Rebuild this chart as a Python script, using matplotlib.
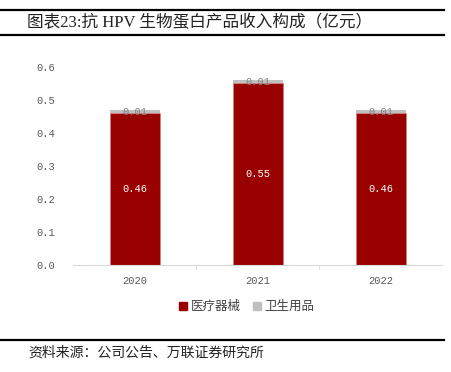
import matplotlib
matplotlib.use("Agg")
import matplotlib.pyplot as plt
from matplotlib.patches import Patch
from matplotlib.lines import Line2D
import numpy as np

plt.rcParams['font.family'] = ['Liberation Serif', 'Noto Sans CJK SC', 'DejaVu Sans']
NUMFONT = ['Liberation Mono', 'DejaVu Sans Mono']

years = ['2020', '2021', '2022']
medical = [0.46, 0.55, 0.46]
hygiene = [0.01, 0.01, 0.01]
yticks = [0.0, 0.1, 0.2, 0.3, 0.4, 0.5, 0.6]

RED = '#990000'
GREY = '#c0c0c0'

W, H = 452, 372
fig = plt.figure(figsize=(W / 100, H / 100), dpi=100)

ax = fig.add_axes([73.5 / W, 107 / H, 369 / W, 198 / H])
x = np.arange(len(years))
b1 = ax.bar(x, medical, width=0.41, color=RED, edgecolor='#d08080', linewidth=0.5)
b2 = ax.bar(x, hygiene, width=0.41, bottom=medical, color=GREY)

for i in range(len(years)):
    ax.text(x[i], medical[i] / 2, f'{medical[i]:.2f}', ha='center', va='center',
            color='white', fontsize=7.5, family=NUMFONT)
    ax.text(x[i], medical[i] + hygiene[i] / 2, f'{hygiene[i]:.2f}', ha='center',
            va='center', color='#7f7f7f', fontsize=7.5, family=NUMFONT)

ax.set_xlim(-0.5, 2.5)
ax.set_ylim(0, 0.6)
ax.set_yticks(yticks)
ax.set_yticklabels([f'{v:.1f}' for v in yticks], color='#595959', fontsize=7.5, family=NUMFONT)
ax.tick_params(axis='y', length=0, pad=13)
ax.set_xticks(x)
ax.set_xticklabels(years, color='#595959', fontsize=7.5, family=NUMFONT)
ax.set_xticks([0.5, 1.5], minor=True)
ax.tick_params(axis='x', which='major', length=0, pad=8)
ax.tick_params(axis='x', which='minor', length=3, color='#d9d9d9')
for s in ['top', 'right', 'left']:
    ax.spines[s].set_visible(False)
ax.spines['bottom'].set_color('#d9d9d9')

handles = [Patch(color=RED), Patch(color=GREY)]
fig.legend(handles, ['医疗器械', '卫生用品'], loc='center', bbox_to_anchor=(247 / W, 1 - 307 / H),
           ncol=2, frameon=False, fontsize=9, handlelength=0.6, handleheight=0.6,
           handletextpad=0.3, columnspacing=1.0, labelcolor='#404040')

# header / footer rules
for yy, lw in [(10, 1.6), (35, 1.6), (340, 1.6)]:
    fig.add_artist(Line2D([0, 444 / W], [1 - yy / H, 1 - yy / H], color='black', lw=lw))

fig.text(27 / W, 1 - 22.5 / H, '图表23:抗 HPV 生物蛋白产品收入构成（亿元）', fontsize=12,
         ha='left', va='center', color='#222222')
fig.text(28 / W, 1 - 353 / H, '资料来源：公司公告、万联证券研究所', fontsize=10,
         ha='left', va='center', color='#222222', style='italic')

fig.savefig('out.png', dpi=100)
